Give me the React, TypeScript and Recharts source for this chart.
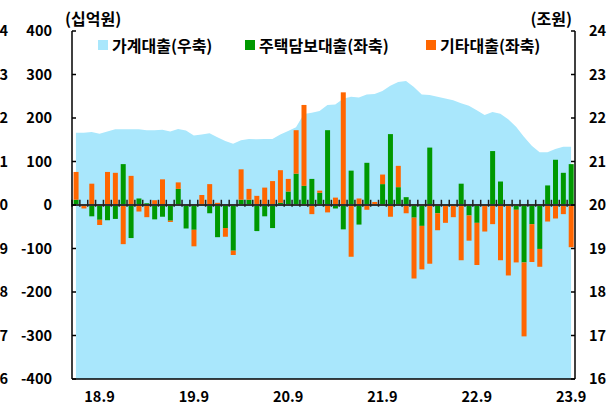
import { ComposedChart, Area, Bar, XAxis, YAxis, ReferenceLine } from "recharts";

// 2018.6 ~ 2023.9, monthly
const MONTHS = [
  "18.6", "18.7", "18.8", "18.9", "18.10", "18.11", "18.12",
  "19.1", "19.2", "19.3", "19.4", "19.5", "19.6", "19.7", "19.8", "19.9", "19.10", "19.11", "19.12",
  "20.1", "20.2", "20.3", "20.4", "20.5", "20.6", "20.7", "20.8", "20.9", "20.10", "20.11", "20.12",
  "21.1", "21.2", "21.3", "21.4", "21.5", "21.6", "21.7", "21.8", "21.9", "21.10", "21.11", "21.12",
  "22.1", "22.2", "22.3", "22.4", "22.5", "22.6", "22.7", "22.8", "22.9", "22.10", "22.11", "22.12",
  "23.1", "23.2", "23.3", "23.4", "23.5", "23.6", "23.7", "23.8", "23.9",
];

// 가계대출 (우축)
const HOUSEHOLD = [
  21.66, 21.66, 21.68, 21.64, 21.69, 21.74, 21.74,
  21.74, 21.74, 21.72, 21.72, 21.73, 21.69, 21.75, 21.71, 21.6, 21.62, 21.65, 21.56,
  21.47, 21.41, 21.49, 21.52, 21.51, 21.52, 21.52, 21.62, 21.7, 21.79, 22.09, 22.12,
  22.16, 22.3, 22.31, 22.44, 22.49, 22.47, 22.54, 22.55, 22.62, 22.74, 22.83, 22.85,
  22.71, 22.54, 22.53, 22.49, 22.45, 22.41, 22.34, 22.28, 22.18, 22.07, 22.14, 22.1,
  21.97, 21.8, 21.57, 21.36, 21.21, 21.21, 21.29, 21.34, 21.34,
];

// 주택담보대출 (좌축)
const MORTGAGE = [
  12, 0, -26, -34, -35, -32, 94,
  -76, 15, 4, -33, -27, -36, 37, -54, -57, 0, -19, -74,
  -53, -105, 12, 12, -60, -26, -53, 5, 31, 72, 44, 60,
  28, 172, -8, -56, 79, -45, 97, 0, 48, 163, 41, 18,
  -29, -48, 132, -19, 0, 0, 49, -24, -41, 1, 124, 54,
  0, -11, -132, -44, -101, 45, 104, 74, 94,
];

// 기타대출 (좌축)
const OTHER = [
  64, -8, 49, -12, 76, 74, -90,
  67, -15, -28, 11, 59, -3, 15, 2, -38, 23, 48, 5,
  -20, -10, 70, 25, 21, 40, 55, 75, 29, 100, 186, -21,
  5, -17, 17, 259, -119, 15, -11, 7, 22, -27, 49, -19,
  -140, -100, -135, -39, -41, -28, -127, -58, -97, -61, -44, -127,
  -162, -121, -170, -87, -41, -38, -31, -21, -97,
];

const X_TICKS = ["18.9", "19.9", "20.9", "21.9", "22.9", "23.9"];
const LEFT_TICKS = [400, 300, 200, 100, 0, -100, -200, -300, -400];
// cut-off labels of another axis, visible at the far left edge
const EDGE_TICKS = ["4", "3", "2", "1", "0", "9", "8", "7", "6"];
const RIGHT_TICKS = [16, 17, 18, 19, 20, 21, 22, 23, 24];

const LEGEND = [
  { name: "가계대출(우축)", color: "#A9E7FC", left: 98 },
  { name: "주택담보대출(좌축)", color: "#009900", left: 245 },
  { name: "기타대출(좌축)", color: "#FF6600", left: 426 },
];

const data = MONTHS.map((month, i) => ({
  month,
  household: HOUSEHOLD[i],
  mortgage: MORTGAGE[i],
  other: OTHER[i],
}));

const FONT = "'Noto Sans CJK KR', 'Noto Sans', sans-serif";
const tickFont = { fontSize: 14.5, fontWeight: 700, fill: "#000", fontFamily: FONT };

function LeftTick(props: any) {
  const { x, y, payload } = props;
  const i = LEFT_TICKS.indexOf(payload.value);
  return (
    <g>
      <text x={x} y={y} dy="0.36em" textAnchor="end" {...tickFont}>
        {payload.value}
      </text>
      <text x={x - 44} y={y} dy="0.36em" textAnchor="end" {...tickFont}>
        {EDGE_TICKS[i]}
      </text>
    </g>
  );
}

export default function App() {
  return (
    <div
      style={{
        position: "absolute",
        left: 0,
        top: 0,
        width: 614,
        height: 407,
        background: "#fff",
        fontFamily: FONT,
        overflow: "hidden",
      }}
    >
      <ComposedChart
        width={614}
        height={407}
        data={data}
        stackOffset="sign"
        barCategoryGap="20%"
        margin={{ top: 31, right: 0, bottom: 0, left: 0 }}
      >
        <XAxis
          dataKey="month"
          ticks={X_TICKS}
          interval={0}
          height={28}
          tickLine={false}
          tickSize={0}
          tickMargin={13}
          tick={tickFont}
          axisLine={{ stroke: "#000", strokeWidth: 1.5 }}
        />
        <XAxis
          xAxisId="top"
          dataKey="month"
          orientation="top"
          height={0}
          tick={false}
          tickLine={false}
          axisLine={{ stroke: "#000", strokeWidth: 1.5 }}
        />
        <YAxis
          yAxisId="left"
          orientation="left"
          width={72}
          domain={[-400, 400]}
          ticks={LEFT_TICKS}
          interval={0}
          tickSize={-4}
          tickMargin={24}
          tick={<LeftTick />}
          tickLine={{ stroke: "#000", strokeWidth: 1.5 }}
          axisLine={{ stroke: "#000", strokeWidth: 1.5 }}
        />
        <YAxis
          yAxisId="right"
          orientation="right"
          width={39}
          domain={[16, 24]}
          ticks={RIGHT_TICKS}
          interval={0}
          tickSize={-4}
          tickMargin={18}
          tick={tickFont}
          tickLine={{ stroke: "#000", strokeWidth: 1.5 }}
          axisLine={{ stroke: "#000", strokeWidth: 1.5 }}
        />
        <Area
          yAxisId="right"
          dataKey="household"
          type="linear"
          fill="#A9E7FC"
          fillOpacity={1}
          stroke="none"
          isAnimationActive={false}
        />
        <Bar yAxisId="left" dataKey="mortgage" stackId="a" fill="#009900" isAnimationActive={false} />
        <Bar yAxisId="left" dataKey="other" stackId="a" fill="#FF6600" isAnimationActive={false} />
        <ReferenceLine yAxisId="left" y={0} stroke="#333" strokeWidth={2} />
        {MONTHS.map((m) => (
          <ReferenceLine
            key={m}
            yAxisId="left"
            position="start"
            segment={[
              { x: m, y: -4 },
              { x: m, y: 12 },
            ]}
            stroke="#222"
            strokeWidth={1.5}
          />
        ))}
      </ComposedChart>

      <div
        style={{
          position: "absolute",
          left: 65,
          top: 7,
          fontSize: 16,
          fontWeight: 700,
          lineHeight: "22px",
        }}
      >
        (십억원)
      </div>
      <div
        style={{
          position: "absolute",
          right: 614 - 572,
          top: 7,
          fontSize: 16,
          fontWeight: 700,
          lineHeight: "22px",
        }}
      >
        (조원)
      </div>

      {LEGEND.map((item) => (
        <div
          key={item.name}
          style={{
            position: "absolute",
            left: item.left,
            top: 34,
            height: 22,
            display: "flex",
            alignItems: "center",
            gap: 4,
            fontSize: 16,
            fontWeight: 700,
            whiteSpace: "nowrap",
          }}
        >
          <span style={{ width: 10, height: 10, background: item.color, display: "inline-block" }} />
          <span>{item.name}</span>
        </div>
      ))}
    </div>
  );
}
